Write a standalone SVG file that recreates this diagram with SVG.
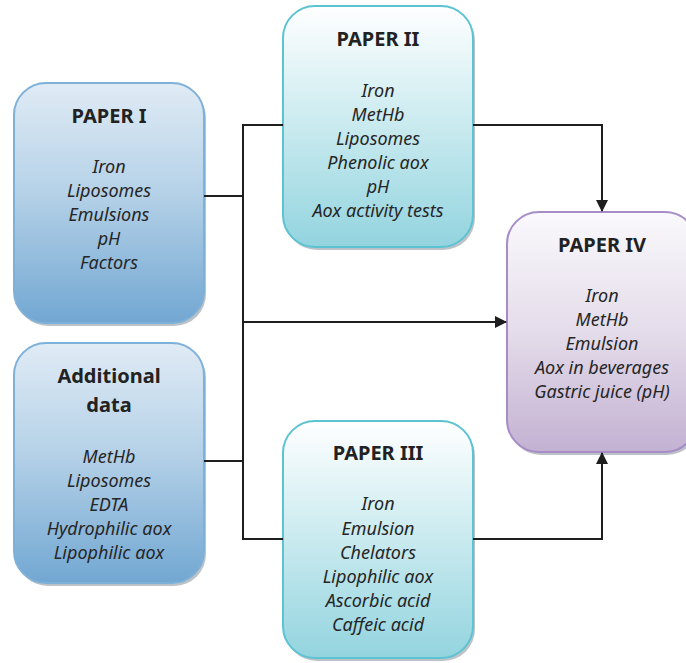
<svg xmlns="http://www.w3.org/2000/svg" width="686" height="663" viewBox="0 0 686 663">
<defs>
<linearGradient id="gBlue" x1="0" y1="0" x2="0" y2="1">
<stop offset="0" stop-color="#e0ebf5"/>
<stop offset="0.45" stop-color="#b6d2e8"/>
<stop offset="1" stop-color="#72a7d2"/>
</linearGradient>
<linearGradient id="gTeal" x1="0" y1="0" x2="0" y2="1">
<stop offset="0" stop-color="#ffffff"/>
<stop offset="0.5" stop-color="#c9eaef"/>
<stop offset="1" stop-color="#93d4df"/>
</linearGradient>
<linearGradient id="gPurple" x1="0" y1="0" x2="0" y2="1">
<stop offset="0" stop-color="#faf9fc"/>
<stop offset="0.5" stop-color="#e4dcea"/>
<stop offset="1" stop-color="#c3b1d2"/>
</linearGradient>
<marker id="arr" viewBox="0 0 12 12" refX="11" refY="6" markerWidth="12" markerHeight="12" markerUnits="userSpaceOnUse" orient="auto">
<path d="M0,0 L12,6 L0,12 Z" fill="#1e1e1e"/>
</marker>
<style>
.shadow{fill:#7c8590;opacity:0.5}
.blue{fill:url(#gBlue);stroke:#7eb1da;stroke-width:2}
.teal{fill:url(#gTeal);stroke:#5cc3d2;stroke-width:2}
.purple{fill:url(#gPurple);stroke:#a68dc7;stroke-width:2}
.title{font-family:"Noto Sans","Open Sans","DejaVu Sans",sans-serif;font-weight:bold;font-size:20px;fill:#222;text-anchor:middle}
.item{font-family:"Noto Sans","Open Sans","DejaVu Sans",sans-serif;font-style:italic;font-size:18px;fill:#262626;text-anchor:middle}
.conn{fill:none;stroke:#1e1e1e;stroke-width:2}
</style>
</defs>
<rect width="686" height="663" fill="#ffffff"/>

<g id="paper1">
<rect class="shadow" x="16" y="86" width="190" height="240" rx="32"/>
<rect class="blue" x="14" y="83" width="190" height="240" rx="32"/>
<text class="title" x="109" y="123">PAPER I</text>
<text class="item" x="109" y="173">Iron</text>
<text class="item" x="109" y="197">Liposomes</text>
<text class="item" x="109" y="221">Emulsions</text>
<text class="item" x="109" y="245">pH</text>
<text class="item" x="109" y="269">Factors</text>
</g>

<g id="additional">
<rect class="shadow" x="16" y="346" width="190" height="240" rx="32"/>
<rect class="blue" x="14" y="343" width="190" height="240" rx="32"/>
<text class="title" x="109" y="383">Additional</text>
<text class="title" x="109" y="412">data</text>
<text class="item" x="109" y="463">MetHb</text>
<text class="item" x="109" y="487">Liposomes</text>
<text class="item" x="109" y="511">EDTA</text>
<text class="item" x="109" y="535">Hydrophilic aox</text>
<text class="item" x="109" y="559">Lipophilic aox</text>
</g>

<g id="paper2">
<rect class="shadow" x="285" y="9" width="190" height="241" rx="32"/>
<rect class="teal" x="283" y="6" width="190" height="241" rx="32"/>
<text class="title" x="378" y="46">PAPER II</text>
<text class="item" x="378" y="97">Iron</text>
<text class="item" x="378" y="121">MetHb</text>
<text class="item" x="378" y="145">Liposomes</text>
<text class="item" x="378" y="169">Phenolic aox</text>
<text class="item" x="378" y="193">pH</text>
<text class="item" x="378" y="217">Aox activity tests</text>
</g>

<g id="paper3">
<rect class="shadow" x="285" y="424" width="190" height="237" rx="32"/>
<rect class="teal" x="283" y="421" width="190" height="237" rx="32"/>
<text class="title" x="378" y="460">PAPER III</text>
<text class="item" x="378" y="510">Iron</text>
<text class="item" x="378" y="535">Emulsion</text>
<text class="item" x="378" y="559">Chelators</text>
<text class="item" x="378" y="583">Lipophilic aox</text>
<text class="item" x="378" y="607">Ascorbic acid</text>
<text class="item" x="378" y="631">Caffeic acid</text>
</g>

<g id="paper4">
<rect class="shadow" x="509" y="215" width="190" height="240" rx="32"/>
<rect class="purple" x="507" y="212" width="190" height="240" rx="32"/>
<text class="title" x="602" y="252">PAPER IV</text>
<text class="item" x="602" y="302">Iron</text>
<text class="item" x="602" y="326">MetHb</text>
<text class="item" x="602" y="350">Emulsion</text>
<text class="item" x="602" y="374">Aox in beverages</text>
<text class="item" x="602" y="398">Gastric juice (pH)</text>
</g>

<g id="connectors">
<path class="conn" d="M204,196 H243"/>
<path class="conn" d="M204,461 H243"/>
<path class="conn" d="M243,125 V539"/>
<path class="conn" d="M242,125 H283"/>
<path class="conn" d="M242,539 H283"/>
<path class="conn" d="M473,125 H602 V211" marker-end="url(#arr)"/>
<path class="conn" d="M243,322 H506" marker-end="url(#arr)"/>
<path class="conn" d="M473,539 H602 V453" marker-end="url(#arr)"/>
</g>
</svg>
